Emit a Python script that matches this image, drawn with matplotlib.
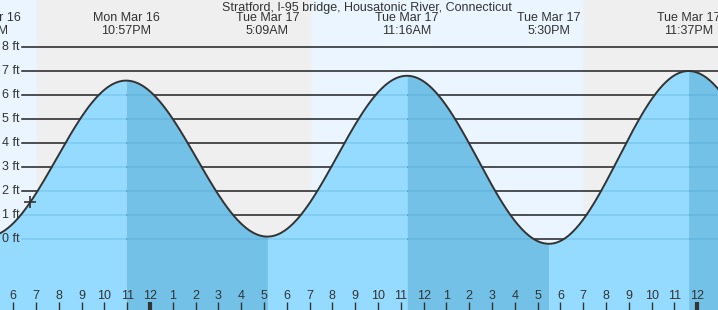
import matplotlib.pyplot as plt
import numpy as np

plt.rcParams['font.family'] = ['Liberation Sans', 'DejaVu Sans']

# hours relative to Tue Mar 17 00:00
tide_times = [-7.15, -1.05, 5.15, 11.27, 17.50, 23.62]
tide_heights = [0.1, 6.6, 0.1, 6.8, -0.2, 7.0]
tide_days = ["Mon Mar 16", "Mon Mar 16", "Tue Mar 17", "Tue Mar 17", "Tue Mar 17", "Tue Mar 17"]
tide_clock = ["4:51PM", "10:57PM", "5:09AM", "11:16AM", "5:30PM", "11:37PM"]

# night periods (sunset -> sunrise), hours
night_start = [-4.97, 19.03]
night_end = [7.02, 30.0]

now_time = -5.26
now_height = 1.55

title = "Stratford, I-95 bridge, Housatonic River, Connecticut"
ft_levels = [0, 1, 2, 3, 4, 5, 6, 7, 8]
hour_ticks = list(range(-6, 25))

x0, x1 = -6.58, 24.91
y0, y1 = -2.958, 9.958

fig = plt.figure(figsize=(7.18, 3.10), dpi=100)
ax = fig.add_axes([0, 0, 1, 1])
ax.set_xlim(x0, x1)
ax.set_ylim(y0, y1)
ax.axis('off')

# day / night background
ax.axvspan(x0, x1, color='#eaf5ff', zorder=0)
for s, e in zip(night_start, night_end):
    ax.axvspan(s, e, color='#efefef', zorder=0.5)

# grid lines (start after the ft labels)
gx = x0 + 22 / 22.8
for lv in ft_levels:
    ax.plot([gx, x1], [lv, lv], color='#222222', lw=1.1, zorder=1)
    ax.text(x0 + 2 / 22.8, lv, f"{lv} ft", ha='left', va='center',
            fontsize=9, color='#333333', zorder=6)

# tide curve: cosine shape between highs and lows
xs, ys, falling = [], [], []
for i in range(len(tide_times) - 1):
    t0, t1 = tide_times[i], tide_times[i + 1]
    h0, h1 = tide_heights[i], tide_heights[i + 1]
    t = np.linspace(t0, t1, 120)
    h = h0 + (h1 - h0) * (1 - np.cos(np.pi * (t - t0) / (t1 - t0))) / 2
    xs.append(t)
    ys.append(h)
    falling.append(h1 < h0)
# extend past last high
t0, h0 = tide_times[-1], tide_heights[-1]
t = np.linspace(t0, t0 + 6.2, 120)
h = h0 + (-0.2 - h0) * (1 - np.cos(np.pi * (t - t0) / 6.2)) / 2
xs.append(t)
ys.append(h)
falling.append(True)

for t, h, f in zip(xs, ys, falling):
    poly = ax.fill_between(t, y0, h, color='#73c1e6' if f else '#95dbff',
                           lw=0, zorder=2)
    for lv in ft_levels:
        ln, = ax.plot([gx, x1], [lv, lv], color='#3a8fc0', alpha=0.25,
                      lw=1.1, zorder=3)
        ln.set_clip_path(poly.get_paths()[0], poly.get_transform())

allx = np.concatenate(xs)
ally = np.concatenate(ys)
ax.plot(allx, ally, color='#333333', lw=1.4, zorder=4)

ax.plot([now_time], [now_height], marker='+', ms=9, mew=1.2,
        color='#333333', zorder=5)

# tide labels at top
for t, d, c in zip(tide_times, tide_days, tide_clock):
    ax.text(t, 1 - 18 / 310, d, ha='center', va='center', fontsize=9,
            color='#333333', transform=ax.get_xaxis_transform(), zorder=6)
    ax.text(t, 1 - 31 / 310, c, ha='center', va='center', fontsize=9,
            color='#333333', transform=ax.get_xaxis_transform(), zorder=6)

fig.text(367 / 718, 1 - 8 / 310, title, ha='center', va='center',
         fontsize=9, color='#333333')

# hour ticks along the bottom
for hr in hour_ticks:
    lab = str(hr % 12 if hr % 12 else 12)
    ax.text(hr, 1 - 296 / 310, lab, ha='center', va='center', fontsize=9,
            color='#333333', transform=ax.get_xaxis_transform(), zorder=6)
    ax.plot([hr, hr], [0, 8 / 310], color='#333333',
            lw=3 if hr % 24 == 0 else 1, transform=ax.get_xaxis_transform(),
            solid_capstyle='butt', zorder=6)

fig.savefig("out.png", dpi=100)
